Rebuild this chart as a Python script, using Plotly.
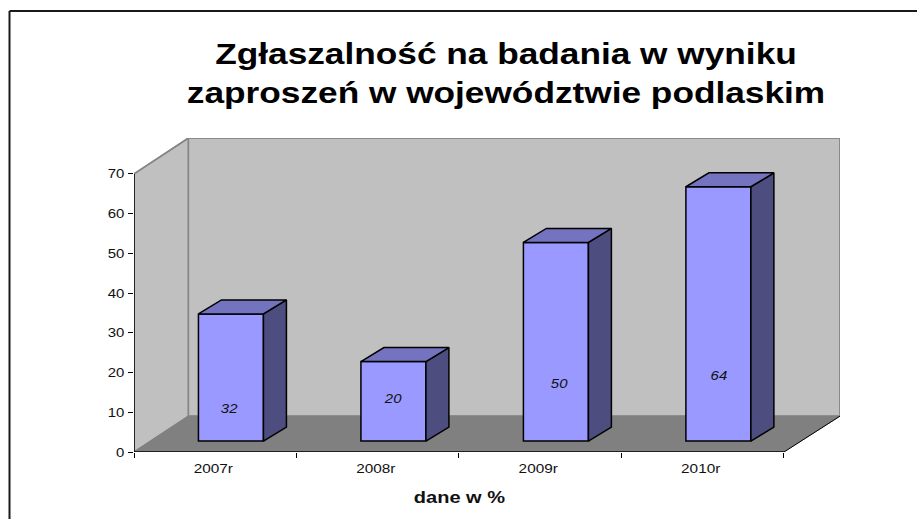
import plotly.graph_objects as go

# --- data ---
categories = ["2007r", "2008r", "2009r", "2010r"]
values = [32, 20, 50, 64]
label_heights = [10.7, 13.2, 17.0, 19.0]  # where Excel left each data label, in axis units
label_shifts = [0.086, 0.095, 0.117, 0.100]  # and its sideways offset from the category centre
y_ticks = [0, 10, 20, 30, 40, 50, 60, 70]
title_text = "Zgłaszalność na badania w wyniku<br>zaproszeń w województwie podlaskim"
x_title_text = "dane w %"

# --- projection of the fake-3D chart, in axis units ---
Y_MAX = 70
WALL_DX_LEFT, WALL_DX, WALL_DY = 0.335, 0.345, 9.03  # depth of the chart box
BAR_SHIFT_X, BAR_BASE = 0.0966, 2.76  # front of bars relative to the front plane
BAR_W = 0.40
BAR_DX, BAR_DY = 0.1415, 3.51       # depth of each bar
TICK_SHIFT = -0.012
X0, X1 = -0.5, 3.5

FRONT, SIDE, TOP = "#9999ff", "#4d4d80", "#7373bf"
WALL, FLOOR, EDGE = "#c0c0c0", "#808080", "#868686"
FONT = "Liberation Sans, Arial, sans-serif"
INK = "#111111"

idx = list(range(len(categories)))
centers = [i + BAR_SHIFT_X for i in idx]

fig = go.Figure()

# front faces
fig.add_trace(go.Bar(
    x=centers, y=values, base=[BAR_BASE] * len(values), width=BAR_W,
    marker=dict(color=FRONT, line=dict(color="black", width=1.5)),
    hoverinfo="skip",
))

# side and top faces, derived from the values
for c, v in zip(centers, values):
    r = c + BAR_W / 2
    l = c - BAR_W / 2
    t = BAR_BASE + v
    fig.add_trace(go.Scatter(
        x=[r, r + BAR_DX, r + BAR_DX, r, r],
        y=[BAR_BASE, BAR_BASE + BAR_DY, t + BAR_DY, t, BAR_BASE],
        mode="lines", fill="toself", fillcolor=SIDE,
        line=dict(color="black", width=1.5), hoverinfo="skip", cliponaxis=False,
    ))
    fig.add_trace(go.Scatter(
        x=[l, r, r + BAR_DX, l + BAR_DX, l],
        y=[t, t, t + BAR_DY, t + BAR_DY, t],
        mode="lines", fill="toself", fillcolor=TOP,
        line=dict(color="black", width=1.5), hoverinfo="skip", cliponaxis=False,
    ))

# data labels
fig.add_trace(go.Scatter(
    x=[i + s for i, s in zip(idx, label_shifts)], y=label_heights,
    text=[str(v) for v in values], mode="text",
    textposition="middle center",
    textfont=dict(family=FONT, size=13, color=INK, style="italic"),
    hoverinfo="skip", cliponaxis=False,
))

# outer edges of the box, unclipped
fig.add_trace(go.Scatter(
    x=[X0, X0 + WALL_DX_LEFT, X1 + WALL_DX, X1 + WALL_DX],
    y=[Y_MAX, Y_MAX + WALL_DY, Y_MAX + WALL_DY, WALL_DY],
    mode="lines", line=dict(color=EDGE, width=1.5), hoverinfo="skip", cliponaxis=False,
))
fig.add_trace(go.Scatter(
    x=[X1, X1 + WALL_DX], y=[0, WALL_DY],
    mode="lines", line=dict(color="black", width=1), hoverinfo="skip", cliponaxis=False,
))
# axis lines
fig.add_trace(go.Scatter(
    x=[X0, X0, X1], y=[Y_MAX, 0, 0],
    mode="lines", line=dict(color="black", width=1.5), hoverinfo="skip", cliponaxis=False,
))


def poly(xs, ys):
    return "M " + " L ".join(f"{a} {b}" for a, b in zip(xs, ys)) + " Z"


shapes = [
    # left wall
    dict(type="path", xref="x", yref="y", layer="below", fillcolor=WALL,
         line=dict(color=EDGE, width=1.5),
         path=poly([X0, X0, X0 + WALL_DX_LEFT, X0 + WALL_DX_LEFT], [0, Y_MAX, Y_MAX + WALL_DY, WALL_DY])),
    # back wall
    dict(type="path", xref="x", yref="y", layer="below", fillcolor=WALL,
         line=dict(color=EDGE, width=1.5),
         path=poly([X0 + WALL_DX_LEFT, X0 + WALL_DX_LEFT, X1 + WALL_DX, X1 + WALL_DX],
                   [WALL_DY, Y_MAX + WALL_DY, Y_MAX + WALL_DY, WALL_DY])),
    # floor
    dict(type="path", xref="x", yref="y", layer="below", fillcolor=FLOOR,
         line=dict(color=FLOOR, width=1),
         path=poly([X0, X1, X1 + WALL_DX, X0 + WALL_DX_LEFT], [0, 0, WALL_DY, WALL_DY])),
    # outer frame (left and top sides are what is visible)
    dict(type="line", xref="paper", yref="paper", layer="above",
         x0=-124.5 / 706, x1=-124.5 / 706, y0=-67 / 314, y1=(452 - 11) / 314,
         line=dict(color="#1a1a1a", width=2)),
    dict(type="line", xref="paper", yref="paper", layer="above",
         x0=-124.5 / 706, x1=(917 - 134) / 706, y0=(452 - 11) / 314, y1=(452 - 11) / 314,
         line=dict(color="#1a1a1a", width=2)),
]

fig.update_layout(
    width=917, height=519, autosize=False,
    margin=dict(l=134, r=77, t=138, b=67, pad=0),
    paper_bgcolor="white", plot_bgcolor="white",
    showlegend=False, barmode="overlay",
    font=dict(family=FONT, color=INK),
    title=dict(text=title_text, x=506 / 917, xanchor="center",
               y=1 - 64 / 519, yanchor="middle",
               font=dict(family=FONT, size=30, color="black", weight="bold")),
    shapes=shapes,
    xaxis=dict(
        range=[X0, X1 + WALL_DX], showgrid=False, zeroline=False, showline=False,
        tickmode="array", tickvals=[i + TICK_SHIFT for i in idx], ticktext=categories, ticks="",
        ticklabelstandoff=7,
        tickfont=dict(family=FONT, size=13, color=INK),
        minor=dict(tickmode="array", tickvals=[i - 0.5 for i in idx] + [X1],
                   ticks="outside", ticklen=5, tickwidth=1, tickcolor="black", showgrid=False),
    ),
    yaxis=dict(
        range=[0, Y_MAX + WALL_DY], showgrid=False, zeroline=False, showline=False,
        tickmode="array", tickvals=y_ticks, ticks="outside", ticklen=5,
        tickwidth=1, tickcolor="black", ticklabelstandoff=1,
        tickfont=dict(family=FONT, size=13, color=INK),
    ),
    annotations=[dict(text=x_title_text, xref="paper", yref="paper",
                      x=(459 - 134) / 706, y=(452 - 497) / 314,
                      xanchor="center", yanchor="middle", showarrow=False,
                      font=dict(family=FONT, size=16, color=INK, weight="bold"))],
)

# The reference text is horizontally stretched; apply the same stretch to the real SVG text.
post = """
document.body.style.margin='0';
setTimeout(function(){
  function stretch(sel, s, anchor){
    document.querySelectorAll(sel).forEach(function(t){
      var b=t.getBBox();
      var ax=anchor==='r' ? b.x+b.width : b.x+b.width/2;
      var prev=t.getAttribute('transform')||'';
      t.setAttribute('transform', prev+' translate('+ax+',0) scale('+s+',1) translate('+(-ax)+',0)');
    });
  }
  stretch('.gtitle',1.175,'c');
  stretch('.xtick text',1.18,'c');
  stretch('.ytick text',1.15,'r');
  stretch('.textpoint text',1.15,'c');
  stretch('.annotation-text',1.25,'c');
},30);
"""
fig.write_html("out.html", config=dict(displayModeBar=False), post_script=post)
